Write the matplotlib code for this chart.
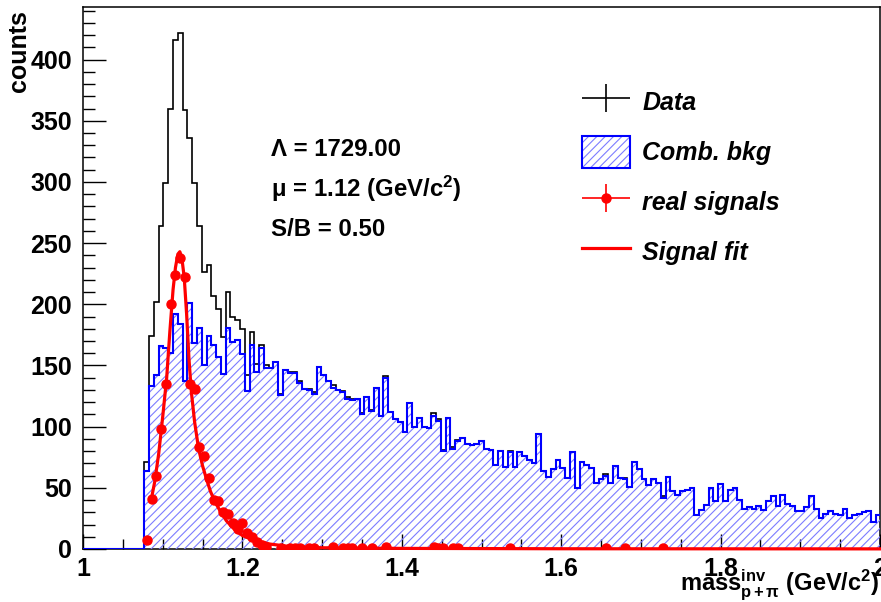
import numpy as np
import matplotlib
matplotlib.use('Agg')
import matplotlib.pyplot as plt
from matplotlib.patches import Patch
from matplotlib.lines import Line2D
from matplotlib.legend_handler import HandlerErrorbar
from matplotlib.ticker import MultipleLocator, FuncFormatter

plt.rcParams['font.family'] = ['Liberation Sans', 'DejaVu Sans']
plt.rcParams['mathtext.fontset'] = 'custom'
plt.rcParams['mathtext.rm'] = 'Liberation Sans'
plt.rcParams['mathtext.bf'] = 'Liberation Sans:bold'
plt.rcParams['mathtext.it'] = 'Liberation Sans:italic'
plt.rcParams['hatch.linewidth'] = 0.8

# ---- binning of the histograms ----
bin_start = 1.077
bin_width = 0.006

# combinatorial background counts per bin
bkg_counts = [
    64, 133, 142, 166, 164, 160, 192, 184, 137, 201,
    168, 181, 150, 174, 167, 157, 143, 181, 169, 171,
    159, 129, 167, 145, 164, 148, 148, 153, 126, 146,
    144, 144, 136, 131, 130, 127, 149, 142, 137, 132,
    130, 128, 123, 122, 123, 110, 124, 113, 132, 109,
    140, 112, 106, 104, 96, 119, 100, 107, 100, 99,
    109, 105, 80, 107, 82, 88, 91, 86, 85, 86,
    88, 82, 81, 69, 80, 67, 79, 67, 79, 76,
    73, 70, 94, 64, 59, 65, 73, 66, 58, 79,
    50, 71, 69, 66, 54, 57, 60, 54, 68, 58,
    57, 51, 71, 65, 57, 52, 57, 54, 42, 59,
    47, 44, 47, 48, 50, 28, 32, 36, 50, 39,
    53, 39, 48, 50, 40, 33, 34, 33, 35, 32,
    39, 43, 35, 44, 37, 35, 31, 31, 34, 43,
    33, 25, 29, 31, 29, 28, 33, 25, 28, 29,
    30, 31, 22, 28,
]

# real signal (data - background) per bin
sig_counts = [
    7, 41, 60, 98, 135, 200, 224, 238, 222, 135,
    131, 83, 76, 58, 40, 39, 30, 29, 21, 16,
    21, 13, 10, 6, 3, 2, 0, 0, 1, 0,
    1, 1, 1, 0, 1, 1, 0, 0, 0, 2,
    0, 1, 1, 1, 0, 1, 0, 1, 0, 0,
    1.5, 0, 0, 0, 0, 0, 0, 0, 0, 0,
    2, 1, 1, 0, 1, 1, 0, 0, 0, 0,
    0, 0, 0, 0, 0, 0, 1, 0, 0, 0,
    0, 0, 0, 0, 0, 0, 0, 0, 0, 0,
    0, 0, 0, 0, 0, 0, 1, 0, 0, 0,
    1, 0, 0, 0, 0, 0, 0, 0, 1, 0,
    0, 0, 0, 0, 0, 0, 0, 0, 0, 0,
    0, 0, 0, 0, 0, 0, 0, 0, 0, 0,
    0, 0, 0, 0, 0, 0, 0, 0, 0, 0,
    0, 0, 0, 0, 0, 0, 0, 0, 0, 0,
    0, 0, 0, 0,
]

# signal fit curve
fit_mass = [1.0855, 1.090, 1.095, 1.100, 1.105, 1.109, 1.113, 1.116, 1.119,
            1.1215, 1.124, 1.127, 1.130, 1.133, 1.136, 1.140, 1.145, 1.150,
            1.155, 1.160, 1.166, 1.173, 1.180, 1.190, 1.200, 1.215, 1.235,
            1.260, 1.300, 1.400, 1.600, 2.000]
fit_counts = [40, 55, 78, 108, 140, 178, 212, 230, 241,
              243, 238, 222, 192, 155, 128, 104, 82, 68,
              57, 47, 38, 30, 23, 16, 11, 7, 4,
              2, 1, 0.5, 0.2, 0.1]

x_ticks_major = 0.2
info_lines = ['Λ = 1729.00', 'μ = 1.12 (GeV/c$^{\\mathbf{2}}$)', 'S/B = 0.50']
legend_labels = ['Data', 'Comb. bkg', 'real signals', 'Signal fit']

# ---- derived ----
bkg = np.array(bkg_counts, float)
sig = np.array(sig_counts, float)
assert len(bkg) == len(sig)
n = len(bkg)
edges = bin_start + bin_width * np.arange(n + 1)
centers = 0.5 * (edges[:-1] + edges[1:])
data = bkg + sig

full_edges = np.concatenate([[1.0], edges])
data_full = np.concatenate([[0.0], data])
bkg_full = np.concatenate([[0.0], bkg])

W, H = 881, 602
fig = plt.figure(figsize=(W / 100, H / 100), dpi=100)
ax = fig.add_axes([83 / W, 53 / H, 797 / W, 542 / H])

ax.stairs(data_full, full_edges, color='black', lw=1.2, zorder=2)
ax.stairs(bkg_full, full_edges, fill=True, facecolor='none',
          edgecolor='#7d7dff', hatch='////', lw=0, zorder=3)
ax.stairs(bkg_full, full_edges, color='blue', lw=1.5, zorder=4)

mask = sig > 0
ax.plot(centers[mask], sig[mask], 'o', color='red', ms=6.5, zorder=5)
ax.plot(fit_mass, fit_counts, color='red', lw=2.3, zorder=6, clip_on=False)

ax.set_xlim(1, 2)
ax.set_ylim(0, 443)
ax.xaxis.set_major_locator(MultipleLocator(x_ticks_major))
ax.xaxis.set_minor_locator(MultipleLocator(0.05))
ax.yaxis.set_major_locator(MultipleLocator(50))
ax.yaxis.set_minor_locator(MultipleLocator(10))
ax.xaxis.set_major_formatter(FuncFormatter(lambda v, p: f'{v:g}'))

ax.tick_params(axis='both', which='both', direction='in', top=False, right=False,
               labelsize=18, width=1.0, colors='black')
ax.tick_params(axis='y', which='major', length=16.5, pad=8)
ax.tick_params(axis='y', which='minor', length=8.5)
ax.tick_params(axis='x', which='major', length=11, pad=6)
ax.tick_params(axis='x', which='minor', length=7)
for lab in ax.get_xticklabels() + ax.get_yticklabels():
    lab.set_fontweight('bold')
for sp in ax.spines.values():
    sp.set_linewidth(1.1)

# info text
for i, t in enumerate(info_lines):
    ax.text(0.236, 0.738 - 0.074 * i, t, transform=ax.transAxes, fontsize=17.3,
            fontweight='bold', va='center', ha='left')

# legend
h_data = ax.errorbar([np.nan], [np.nan], xerr=[1], yerr=[1], fmt='none',
                     ecolor='black', elinewidth=1.2)
h_sig = ax.errorbar([np.nan], [np.nan], xerr=[1], yerr=[1], fmt='o',
                    color='red', ms=6.5, elinewidth=1.2)
h_bkg = (Patch(facecolor='white', edgecolor='#7d7dff', hatch='////', lw=0),
         Patch(facecolor='none', edgecolor='blue', lw=1.5))
h_fit = Line2D([], [], color='red', lw=2.3)
herr = HandlerErrorbar(xerr_size=0.96, yerr_size=0.56)
ax.legend([h_data, h_bkg, h_sig, h_fit], legend_labels,
          loc='upper left', bbox_to_anchor=(0.626, 0.855), frameon=False,
          prop=dict(weight='bold', style='italic', size=18),
          handlelength=1.92, handleheight=1.6, handletextpad=0.5,
          labelspacing=0.72, borderpad=0, borderaxespad=0,
          handler_map={h_data: herr, h_sig: herr})

# axis titles
fig.text(19 / W, 1 - 10 / H, 'counts', rotation=90, ha='center', va='top',
         fontsize=18, fontweight='bold')
fig.text(0.998, 1 - 590 / H,
         r'mass$^{\mathbf{inv}}_{\mathbf{p+\pi}}$ (GeV/c$^{\mathbf{2}}$)',
         ha='right', va='baseline', fontsize=17, fontweight='bold')

fig.savefig('out.png', dpi=100)
